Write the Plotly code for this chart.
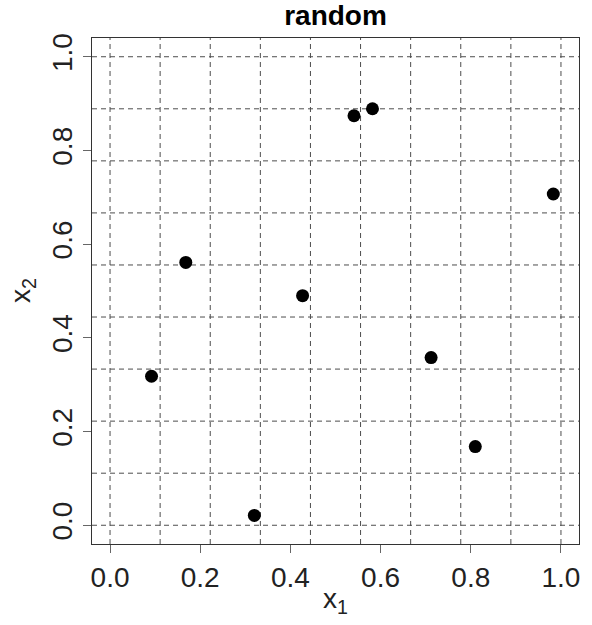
import plotly.graph_objects as go

# Data
x1 = [0.092, 0.168, 0.320, 0.427, 0.541, 0.582, 0.712, 0.810, 0.983]
x2 = [0.318, 0.561, 0.021, 0.490, 0.874, 0.889, 0.358, 0.168, 0.707]
tick_vals = [0.0, 0.2, 0.4, 0.6, 0.8, 1.0]
tick_text = ["0.0", "0.2", "0.4", "0.6", "0.8", "1.0"]
grid_vals = [k / 9 for k in range(10)]

FONT = "Liberation Sans, Arial, Helvetica, sans-serif"

fig = go.Figure()
fig.add_trace(go.Scatter(
    x=x1, y=x2, mode="markers",
    marker=dict(color="black", size=13, line=dict(width=0)),
    showlegend=False, hoverinfo="x+y",
))

shapes = []
for g in grid_vals:
    shapes.append(dict(type="line", xref="x", yref="paper", x0=g, x1=g, y0=0, y1=1,
                       line=dict(color="#4d4d4d", width=1, dash="5px,4px"), layer="below"))
    shapes.append(dict(type="line", xref="paper", yref="y", x0=0, x1=1, y0=g, y1=g,
                       line=dict(color="#4d4d4d", width=1, dash="5px,4px"), layer="below"))

axis_common = dict(
    range=[-0.04, 1.04], tickmode="array", tickvals=tick_vals, ticktext=tick_text,
    showgrid=False, zeroline=False, showline=True, mirror=True,
    linecolor="#333333", linewidth=1, ticks="outside", ticklen=8,
    tickcolor="#666666", tickwidth=1, automargin=False,
    tickfont=dict(family=FONT, size=28, color="#222222"),
)

W, H = 592, 625
L, R, T, B = 92, 13, 38, 81
PW, PH = W - L - R, H - T - B

fig.update_layout(
    width=W, height=H, autosize=False,
    margin=dict(l=L, r=R, t=T, b=B),
    paper_bgcolor="white", plot_bgcolor="white",
    shapes=shapes,
    title=dict(text="<b>random</b>", x=(L + PW / 2) / W, xanchor="center",
               y=1 - 15 / H, yanchor="middle", yref="container",
               font=dict(family=FONT, size=28, color="black")),
    xaxis=dict(**axis_common),
    yaxis=dict(**axis_common, tickangle=-90),
    annotations=[
        dict(text="x<sub>1</sub>", xref="paper", yref="paper", x=0.5, y=-56 / PH,
             xanchor="center", yanchor="middle", showarrow=False,
             font=dict(family=FONT, size=28, color="#222222")),
        dict(text="x<sub>2</sub>", xref="paper", yref="paper", x=-70 / PW, y=0.5,
             xanchor="center", yanchor="middle", showarrow=False, textangle=-90,
             font=dict(family=FONT, size=28, color="#222222")),
    ],
)

fig.write_html("out.html", config={"displayModeBar": False},
               post_script="document.body.style.margin='0';document.body.style.overflow='hidden';")
